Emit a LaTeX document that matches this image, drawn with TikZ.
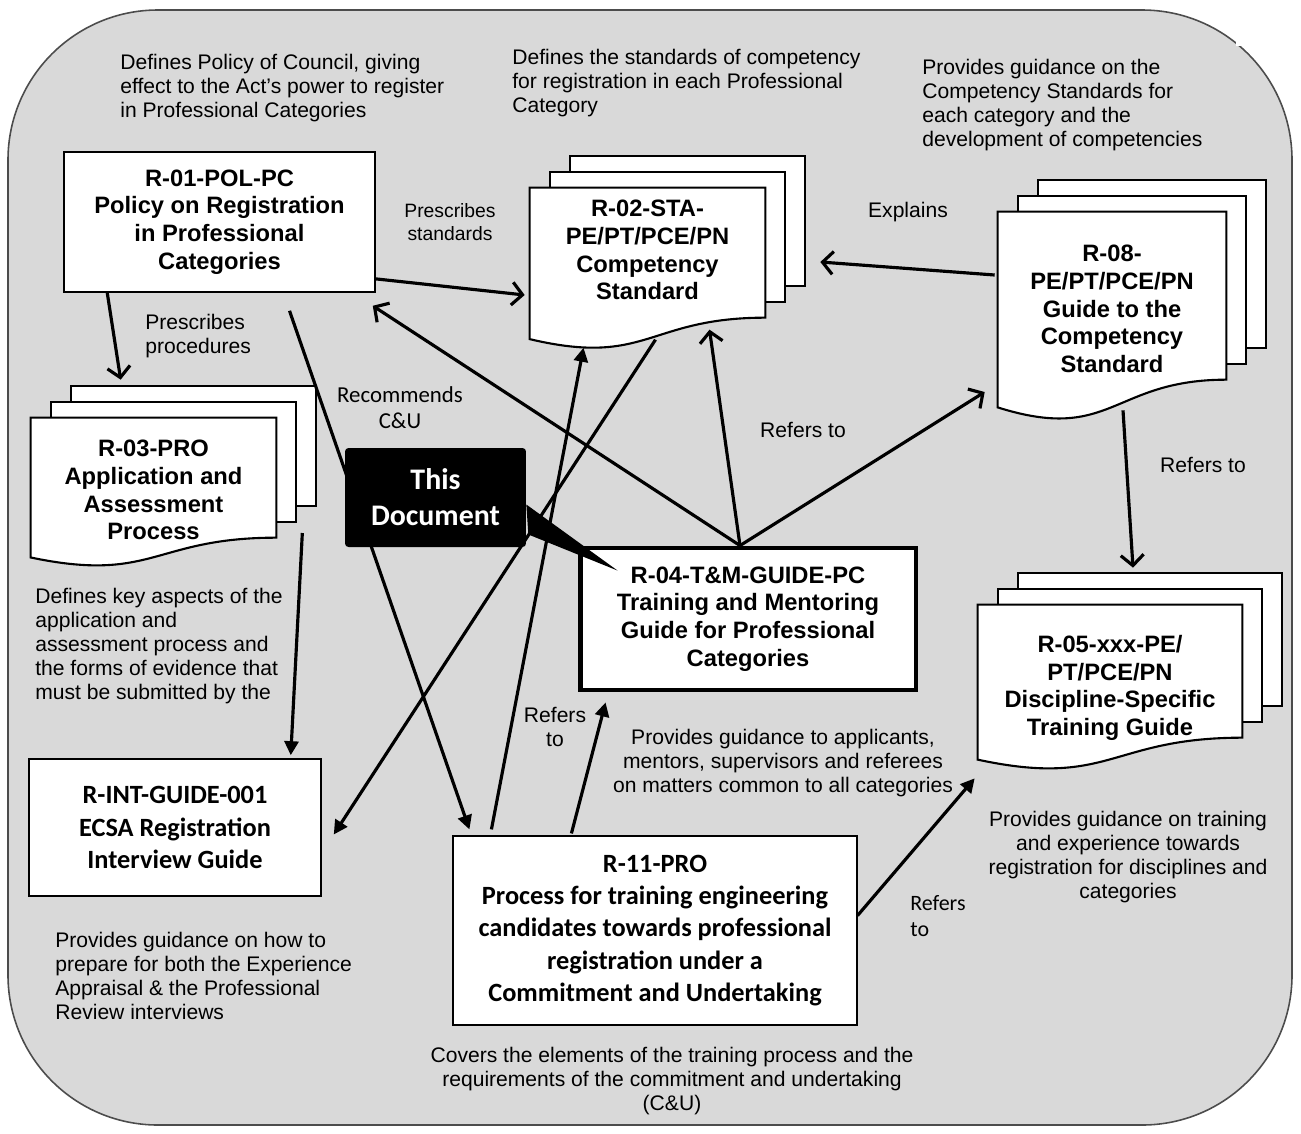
\documentclass[tikz,border=0pt]{standalone}
\usepackage{fontspec}
\setmainfont{Liberation Sans}
\newfontfamily\calibri{Carlito}
\usetikzlibrary{arrows.meta,calc}
\definecolor{bggray}{RGB}{217,217,217}
\pgfdeclarelayer{back}
\pgfdeclarelayer{pages}
\pgfsetlayers{back,pages,main}

\newcommand{\docstack}[2]{%
  \begin{pgfonlayer}{pages}
    \foreach \k in {2,1}
      \draw[sheet] ([shift={(20*\k,-16*\k)}]#1.north west) rectangle ([shift={(20*\k,#2-16*\k)}]#1.north east);
    \draw[sheet] (#1.north west) -- (#1.north east) -- ++(0,#2)
      .. controls ($(#1.north)+(0,#2)$) and ($(#1.north)+(0,1.38*#2)$) .. ($(#1.north west)+(0,1.165*#2)$) -- cycle;
  \end{pgfonlayer}}

\begin{document}
\begin{tikzpicture}[x=0.02cm,y=-0.02cm]
            \tikzstyle{every node}=[inner sep=0pt, font=\fontsize{12}{13.6}\selectfont]
            \tikzstyle{note}=[align=left, anchor=west]
            \tikzstyle{cnote}=[align=center]
            \tikzstyle{title}=[align=center, font=\bfseries\fontsize{13.5}{15.8}\selectfont]
            \tikzstyle{ctitle}=[align=center, font=\calibri\bfseries\fontsize{15}{18.4}\selectfont]
            \tikzstyle{box}=[draw, fill=white, line width=0.9pt]
            \tikzstyle{sheet}=[draw, fill=white, line width=1.2pt]
            \tikzstyle{openarr}=[line width=1.8pt, -{Straight Barb[length=6pt,width=13pt]}]
            \tikzstyle{fullarr}=[line width=1.8pt, -{Triangle[length=8pt,width=8pt]}]

            \useasboundingbox (0,0) rectangle (1301,1133);

            \begin{pgfonlayer}{back}
            \filldraw[fill=bggray, draw=black!70, line width=0.9pt, rounded corners=3cm] (8,10) rectangle (1292,1125);
            \fill[white] (1236,0) rectangle (1301,46);
            \end{pgfonlayer}

            \node[title, box, minimum width=6.22cm, minimum height=2.8cm] (r01) at (219.5,222) {R-01-POL-PC\\Policy on Registration\\in Professional\\Categories};
            \node[title, minimum width=4.7cm, minimum height=2.48cm] (r02) at (647.5,250) {R-02-STA-\\PE/PT/PCE/PN\\Competency\\Standard};
            \node[title, minimum width=4.56cm, minimum height=3.88cm] (r08) at (1112,309) {R-08-\\PE/PT/PCE/PN\\Guide to the\\Competency\\Standard};
            \node[title, minimum width=4.9cm, minimum height=2.88cm] (r03) at (153.5,490) {R-03-PRO\\Application and\\Assessment\\Process};
            \node[title, minimum width=5.28cm, minimum height=3.32cm] (r05) at (1110,688) {R-05-xxx-PE/\\PT/PCE/PN\\Discipline-Specific\\Training Guide};
            \node[title, box, line width=2.8pt, minimum width=6.72cm, minimum height=2.84cm] (r04) at (748,619) {R-04-T\&M-GUIDE-PC\\Training and Mentoring\\Guide for Professional\\Categories};
            \node[ctitle, box, minimum width=5.84cm, minimum height=2.74cm] (rint) at (175,827.5) {R-INT-GUIDE-001\\ECSA Registration\\Interview Guide};
            \node[ctitle, box, line width=0.7pt, minimum width=8.08cm, minimum height=3.78cm] (r11) at (655,930.5) {R-11-PRO\\Process for training engineering\\candidates towards professional\\registration under a\\Commitment and Undertaking};

            \docstack{r02}{130}
            \docstack{r08}{168}
            \docstack{r03}{120}
            \docstack{r05}{133}

            \node[note] (n01) at (120,88) {Defines Policy of Council, giving\\effect to the Act’s power to register\\in Professional Categories};
            \node[note] (n02) at (512,83) {Defines the standards of competency\\for registration in each Professional\\Category};
            \node[note] (n08) at (922,105) {Provides guidance on the\\Competency Standards for\\each category and the\\development of competencies};
            \node[cnote, font=\fontsize{11}{13}\selectfont] (lstd) at (450,222) {Prescribes\\standards};
            \node (lexp) at (908,212) {Explains};
            \node[note] (lproc) at (145,336) {Prescribes\\procedures};
            \node[cnote, font=\calibri\fontsize{13}{14.7}\selectfont] (lrec) at (400,408) {Recommends\\C\&U};
            \node (lref1) at (803,430) {Refers to};
            \node (lref2) at (1203,465) {Refers to};
            \node[note] (n03) at (35,646) {Defines key aspects of the\\application and\\assessment process and\\the forms of evidence that\\must be submitted by the};
            \node[cnote] (lref3) at (555,727) {Refers\\to};
            \node[cnote] (n04) at (783,763) {Provides guidance to applicants,\\mentors, supervisors and referees\\on matters common to all categories};
            \node[cnote] (n05) at (1128,857) {Provides guidance on training\\and experience towards\\registration for disciplines and\\categories};
            \node[note, font=\calibri\fontsize{12.5}{15.3}\selectfont] (lref4) at (910,916) {Refers\\to};
            \node[note] (nint) at (55,976) {Provides guidance on how to\\prepare for both the Experience\\Appraisal \& the Professional\\Review interviews};
            \node[cnote] (n11) at (672,1081) {Covers the elements of the training process and the\\requirements of the commitment and undertaking\\(C\&U)};

            \coordinate (fan) at ($(r04.north)+(-8,0)$);

            \draw[openarr] (r01.-20) -- ($(r02.west)+(-5,45)$);
            \draw[openarr] ($(r01.south west)+(44,0)$) -- ($(r03.north west)+(90,-38)$);
            \draw[fullarr] ($(r01.south)+(70,18)$) -- ($(r11.north west)+(17,-6)$);
            \draw[openarr] (fan) -- ($(r01.south east)+(-3,13)$);
            \draw[openarr] (fan) -- ($(r02.north)+(62,142)$);
            \draw[openarr] (fan) -- ($(r08.west)+(-13,83)$);
            \draw[fullarr] ($(r02.north)+(8,152)$) -- ($(rint.east)+(12,7)$);
            \draw[fullarr] ($(r11.north west)+(39,-6)$) -- ($(r02.north)+(-64,160)$);
            \draw[fullarr] ($(r11.north west)+(119,-2)$) -- ($(r04.south west)+(28,10)$);
            \draw[fullarr] ($(r03.east)+(26,43)$) -- ($(rint.north east)+(-31,-3)$);
            \draw[openarr] ($(r08.west)+(-3,-34)$) -- ($(r02.east)+(55,12)$);
            \draw[openarr] ($(r08.south)+(11,4)$) -- ($(r05.north)+(23,-37)$);
            \draw[fullarr] ($(r11.east)+(0,-15)$) -- ($(r05.south west)+(-3,7)$);

            \node[fill=black, rounded corners=2pt, minimum width=3.62cm, minimum height=1.98cm, text=white, align=center, font=\calibri\bfseries\fontsize{17}{20.4}\selectfont] (tdoc) at (435.5,497.5) {This\\Document};
            \fill ($(tdoc.east)+(0,7)$) -- ($(r04.north west)+(40,25)$) -- ($(tdoc.east)+(2,37)$) -- cycle;

          \end{tikzpicture}
\end{document}
